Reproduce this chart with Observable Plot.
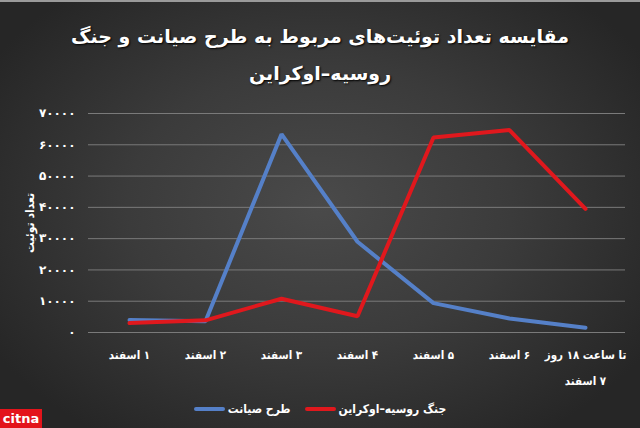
<!DOCTYPE html>
<html><head><meta charset="utf-8">
<script src="https://cdn.jsdelivr.net/npm/d3@7"></script>
<script src="https://cdn.jsdelivr.net/npm/@observablehq/plot@0.6"></script>
<style>
body{margin:0;background:#2a2a2a;}
#wrap{position:relative;width:640px;height:428px;overflow:hidden;
  background:radial-gradient(ellipse 60% 65% at 50% 48%, #4a4a4a 0%, #3b3b3b 50%, #262626 100%);
  font-family:"DejaVu Sans",sans-serif;color:#fff;}
#topline{position:absolute;top:0;left:0;width:640px;height:2px;background:#9a9a9a;}
.t{position:absolute;left:0;width:640px;text-align:center;direction:rtl;font-weight:bold;font-size:19px;line-height:24px;text-shadow:1px 1px 2px #000;}
#chart{position:absolute;top:95px;left:0;}
#legend{position:absolute;top:397px;left:0;width:640px;height:24px;display:flex;justify-content:center;direction:rtl;padding-left:0;}
.item{height:24px;display:flex;align-items:center;direction:rtl;font-weight:bold;font-size:12px;white-space:nowrap;margin:0 7px;font-family:"DejaVu Sans Condensed","DejaVu Sans",sans-serif;}
.sw{display:inline-block;width:31px;height:4px;border-radius:2px;margin-right:3px;}
#logo{position:absolute;left:0;top:409px;width:42px;height:19px;background:#e3141b;color:#fff;font-size:13px;font-weight:bold;line-height:19px;text-align:center;font-family:"DejaVu Sans",sans-serif;}
</style></head>
<body>
<div id="wrap">
  <div id="topline"></div>
  <div class="t" id="t1" style="top:24px"></div>
  <div class="t" id="t2" style="top:61px"></div>
  <div id="chart"></div>
  <div id="legend"></div>
  <div id="logo">citna</div>
</div>
<script>
const titleLines = ["مقایسه تعداد توئیت‌های مربوط به طرح صیانت و جنگ", "روسیه–اوکراین"];
const yLabel = "تعداد توئیت";
const categories = ["۱ اسفند","۲ اسفند","۳ اسفند","۴ اسفند","۵ اسفند","۶ اسفند","تا ساعت ۱۸ روز\n۷ اسفند"];
const seriesNames = ["طرح صیانت","جنگ روسیه–اوکراین"];
const seriesColors = ["#5580c8","#e0181d"];
const siyanatValues = [4000, 3600, 63400, 29000, 9400, 4500, 1500];
const warValues = [3000, 3900, 10800, 5200, 62300, 64700, 39500];
const yTicks = [0,10000,20000,30000,40000,50000,60000,70000];

const fa = s => String(s).replace(/\d/g, d => "۰۱۲۳۴۵۶۷۸۹"[d]);

document.getElementById("t1").textContent = titleLines[0];
document.getElementById("t2").textContent = titleLines[1];

const rows = [];
categories.forEach((c,i) => rows.push({cat:c, value:siyanatValues[i], series:seriesNames[0]}));
categories.forEach((c,i) => rows.push({cat:c, value:warValues[i], series:seriesNames[1]}));

const chart = Plot.plot({
  width: 640,
  height: 300,
  marginTop: 18,
  marginBottom: 63,
  marginLeft: 88,
  marginRight: 15,
  style: {color:"#fff", background:"transparent", fontFamily:"DejaVu Sans, sans-serif"},
  x: {type:"point", domain: categories, padding: 0.5},
  y: {domain:[0,70000]},
  color: {domain: seriesNames, range: seriesColors},
  marks: [
    Plot.gridY(yTicks, {stroke:"#7a7a7a", strokeOpacity:1, strokeWidth:1}),
    Plot.axisY(yTicks, {tickSize:0, tickPadding:13, tickFormat: d => fa(d), fontSize:12, fontWeight:"bold", label:null}),
    Plot.axisX({tickSize:0, tickPadding:8, fontSize:11.5, fontWeight:"bold", lineHeight:2.25, label:null, textAnchor:"middle", fontFamily:"DejaVu Sans Condensed, DejaVu Sans, sans-serif"}),
    Plot.line(rows, {x:"cat", y:"value", stroke:"series", z:"series", strokeWidth:4, strokeLinejoin:"miter", strokeLinecap:"round"}),
    Plot.text([yLabel], {frameAnchor:"left", dx:-58, rotate:-90, textAnchor:"middle", fontSize:12, fontWeight:"bold", fill:"#fff", fontFamily:"DejaVu Sans Condensed, DejaVu Sans, sans-serif"})
  ]
});
d3.select(chart).selectAll('g[aria-label="x-axis tick label"] text').attr("direction","rtl").style("unicode-bidi","plaintext");
document.getElementById("chart").appendChild(chart);

const legend = document.getElementById("legend");
// legend in RTL order: red item on the right, blue item on the left
[1,0].forEach(i => {
  const it = document.createElement("div");
  it.className = "item";
  const tx = document.createElement("span");
  tx.textContent = seriesNames[i];
  const sw = document.createElement("span");
  sw.className = "sw";
  sw.style.background = seriesColors[i];
  it.appendChild(tx);
  it.appendChild(sw);
  legend.appendChild(it);
});
</script>
</body></html>
